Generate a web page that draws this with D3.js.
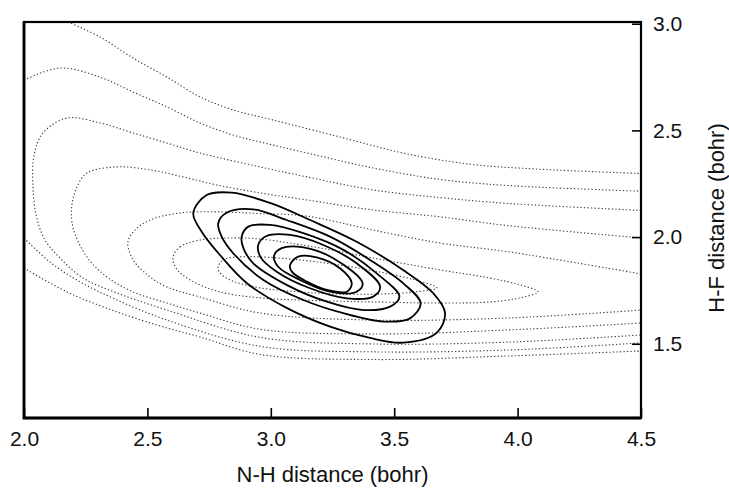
<!DOCTYPE html>
<html>
<head>
<meta charset="utf-8">
<script src="https://cdn.jsdelivr.net/npm/d3@7"></script>
<style>
  body { margin: 0; background: #fff; }
  text { font-family: "Liberation Sans", Arial, Helvetica, sans-serif; fill: #111; }
</style>
</head>
<body>
<svg id="chart" width="729" height="488"></svg>
<script>
// axis ticks
var xTicks = [2.0, 2.5, 3.0, 3.5, 4.0, 4.5];
var yTicks = [1.5, 2.0, 2.5, 3.0];

// solid contours (wavefunction), innermost last
var psi1 = [[2.686,2.112],[2.740,2.197],[2.842,2.208],[2.997,2.160],[3.159,2.080],[3.348,1.978],[3.536,1.846],[3.657,1.738],[3.706,1.644],[3.672,1.551],[3.536,1.505],[3.402,1.527],[3.240,1.580],[3.064,1.668],[2.902,1.785],[2.794,1.916],[2.720,2.025]];
var psi2 = [[2.787,2.065],[2.821,2.114],[2.929,2.130],[3.064,2.080],[3.240,2.002],[3.402,1.893],[3.537,1.783],[3.607,1.690],[3.564,1.619],[3.456,1.604],[3.294,1.643],[3.132,1.705],[2.970,1.799],[2.848,1.924],[2.801,2.002]];
var psi3 = [[2.882,2.002],[2.909,2.049],[2.997,2.057],[3.132,2.018],[3.294,1.940],[3.429,1.830],[3.521,1.721],[3.483,1.674],[3.375,1.658],[3.227,1.697],[3.064,1.776],[2.929,1.877],[2.889,1.948]];
var psi4 = [[2.949,1.963],[2.983,2.005],[3.078,2.010],[3.213,1.963],[3.348,1.877],[3.443,1.768],[3.415,1.721],[3.308,1.713],[3.159,1.760],[3.024,1.838],[2.959,1.905]];
var psi5 = [[3.013,1.911],[3.044,1.948],[3.132,1.952],[3.253,1.901],[3.372,1.784],[3.348,1.744],[3.240,1.744],[3.118,1.799],[3.030,1.861]];
var psi6 = [[3.078,1.869],[3.111,1.908],[3.186,1.905],[3.280,1.854],[3.328,1.784],[3.308,1.744],[3.227,1.752],[3.146,1.791],[3.085,1.838]];

// dotted contours (potential energy), outermost first
var pes1Upper = [[2.178,3.008],[2.308,2.938],[2.442,2.839],[2.579,2.750],[2.713,2.657],[2.847,2.596],[3.009,2.549],[3.280,2.469],[3.552,2.390],[3.819,2.340],[4.091,2.318],[4.500,2.298]];
var pes1Lower = [[2.000,1.855],[2.174,1.743],[2.377,1.649],[2.579,1.574],[2.713,1.532],[2.956,1.450],[3.414,1.426],[3.969,1.443],[4.500,1.466]];
var pes2Upper = [[2.000,2.736],[2.146,2.792],[2.308,2.750],[2.442,2.680],[2.579,2.610],[2.713,2.535],[2.847,2.478],[2.956,2.446],[3.147,2.394],[3.414,2.324],[3.686,2.270],[3.957,2.242],[4.500,2.215]];
var pes2Lower = [[2.000,1.996],[2.105,1.883],[2.227,1.790],[2.377,1.705],[2.579,1.611],[2.956,1.488],[3.414,1.462],[3.969,1.471],[4.500,1.504]];
var pes3 = [[4.500,2.125],[3.957,2.158],[3.686,2.185],[3.414,2.221],[3.147,2.282],[2.956,2.329],[2.713,2.394],[2.579,2.441],[2.442,2.488],[2.308,2.535],[2.174,2.558],[2.077,2.488],[2.041,2.385],[2.036,2.244],[2.049,2.104],[2.085,1.986],[2.146,1.902],[2.239,1.808],[2.377,1.738],[2.579,1.658],[2.956,1.530],[3.414,1.499],[3.969,1.508],[4.500,1.541]];
var pes4 = [[4.500,1.996],[3.950,2.055],[3.686,2.095],[3.414,2.127],[3.147,2.174],[2.956,2.207],[2.782,2.244],[2.644,2.282],[2.511,2.315],[2.377,2.329],[2.255,2.300],[2.215,2.235],[2.194,2.150],[2.199,2.043],[2.255,1.907],[2.336,1.813],[2.442,1.743],[2.579,1.691],[2.713,1.644],[2.956,1.568],[3.414,1.546],[3.969,1.565],[4.500,1.597]];
var pes5 = [[4.500,1.827],[3.969,1.930],[3.686,1.972],[3.414,2.033],[3.147,2.098],[2.956,2.110],[2.794,2.118],[2.632,2.113],[2.511,2.080],[2.450,2.033],[2.421,1.977],[2.442,1.893],[2.511,1.813],[2.579,1.766],[2.713,1.719],[2.956,1.644],[3.414,1.611],[3.969,1.621],[4.500,1.658]];
var pes6 = [[2.604,1.907],[2.632,1.954],[2.713,1.986],[2.847,1.996],[2.956,1.991],[3.199,1.949],[3.414,1.902],[3.686,1.846],[3.888,1.808],[4.010,1.776],[4.083,1.743],[4.010,1.715],[3.888,1.696],[3.686,1.691],[3.414,1.696],[3.118,1.705],[2.956,1.715],[2.794,1.743],[2.673,1.799],[2.616,1.855]];
var pes7 = [[2.786,1.855],[2.806,1.893],[2.875,1.907],[2.956,1.907],[3.118,1.893],[3.280,1.869],[3.442,1.836],[3.584,1.799],[3.673,1.762],[3.584,1.743],[3.442,1.733],[3.280,1.733],[3.118,1.743],[2.956,1.762],[2.855,1.790],[2.802,1.822]];

var svg = d3.select("#chart");
var margin = { left: 24, right: 88, top: 22, bottom: 70 };
var width = 729 - margin.left - margin.right,
    height = 488 - margin.top - margin.bottom;

var x = d3.scaleLinear().domain([2.0, 4.5]).range([margin.left, margin.left + width]);
var y = d3.scaleLinear().domain([1.152, 3.008]).range([margin.top + height, margin.top]);

svg.append("clipPath").attr("id", "plotClip")
  .append("rect")
  .attr("x", margin.left).attr("y", margin.top)
  .attr("width", width).attr("height", height);

var plot = svg.append("g").attr("clip-path", "url(#plotClip)");

var openLine = d3.line().x(function (d) { return x(d[0]); }).y(function (d) { return y(d[1]); })
  .curve(d3.curveCatmullRom.alpha(0.5));
var closedLine = d3.line().x(function (d) { return x(d[0]); }).y(function (d) { return y(d[1]); })
  .curve(d3.curveCatmullRomClosed.alpha(0.5));

// potential contours
var openPes = [pes1Upper, pes1Lower, pes2Upper, pes2Lower, pes3, pes4, pes5];
var closedPes = [pes6, pes7];

plot.selectAll("path.pes-open")
  .data(openPes)
  .enter().append("path")
  .attr("class", "pes-open")
  .attr("d", openLine)
  .attr("fill", "none")
  .attr("stroke", "#3a3a3a")
  .attr("stroke-width", 1.1)
  .attr("stroke-dasharray", "1.3,2.2");

plot.selectAll("path.pes-closed")
  .data(closedPes)
  .enter().append("path")
  .attr("class", "pes-closed")
  .attr("d", closedLine)
  .attr("fill", "none")
  .attr("stroke", "#3a3a3a")
  .attr("stroke-width", 1.1)
  .attr("stroke-dasharray", "1.3,2.2");

// density contours
plot.selectAll("path.psi")
  .data([psi1, psi2, psi3, psi4, psi5, psi6])
  .enter().append("path")
  .attr("class", "psi")
  .attr("d", closedLine)
  .attr("fill", "none")
  .attr("stroke", "#000")
  .attr("stroke-width", 1.8);

// frame: left and bottom drawn a bit heavier, as in the scan
svg.append("rect")
  .attr("x", margin.left).attr("y", margin.top)
  .attr("width", width).attr("height", height)
  .attr("fill", "none")
  .attr("stroke", "#000")
  .attr("stroke-width", 2.2);
svg.append("path")
  .attr("d", "M" + margin.left + "," + margin.top + "V" + (margin.top + height) + "H" + (margin.left + width))
  .attr("fill", "none")
  .attr("stroke", "#000")
  .attr("stroke-width", 2.8);

// bottom axis, ticks pointing inward
var xAxis = svg.append("g")
  .attr("transform", "translate(0," + (margin.top + height) + ")")
  .call(d3.axisBottom(x).tickValues(xTicks).tickSize(-10).tickPadding(13).tickFormat(d3.format(".1f")));
xAxis.select(".domain").remove();
xAxis.selectAll("line").attr("stroke", "#000").attr("stroke-width", 1.6);
xAxis.selectAll("text").style("font-size", "21px").attr("fill", "#111");

// right axis, ticks pointing inward
var yAxis = svg.append("g")
  .attr("transform", "translate(" + (margin.left + width) + ",0)")
  .call(d3.axisRight(y).tickValues(yTicks).tickSize(-9).tickPadding(12).tickFormat(d3.format(".1f")));
yAxis.select(".domain").remove();
yAxis.selectAll("line").attr("stroke", "#000").attr("stroke-width", 1.6);
yAxis.selectAll("text").style("font-size", "21px").attr("fill", "#111");

// axis titles
svg.append("text")
  .attr("x", margin.left + width / 2)
  .attr("y", 482)
  .attr("text-anchor", "middle")
  .style("font-size", "22px")
  .text("N-H distance (bohr)");

svg.append("text")
  .attr("transform", "translate(724," + 218 + ") rotate(-90)")
  .attr("text-anchor", "middle")
  .style("font-size", "22px")
  .text("H-F distance (bohr)");
</script>
</body>
</html>
